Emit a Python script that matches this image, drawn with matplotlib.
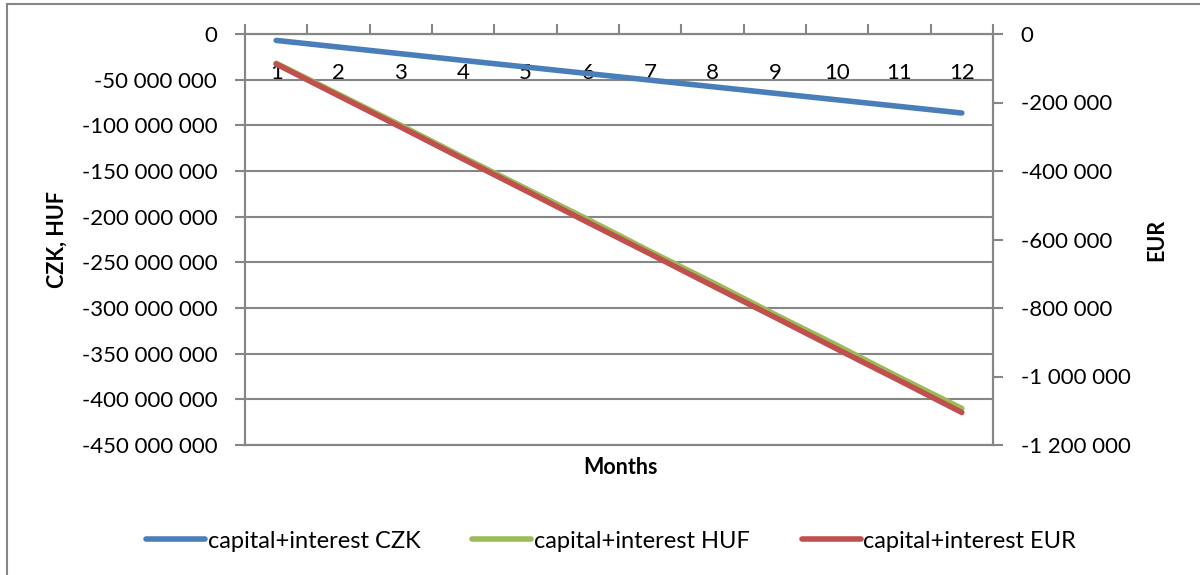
import matplotlib.pyplot as plt
from matplotlib.ticker import FuncFormatter, FixedLocator
from matplotlib.patches import Rectangle
import numpy as np

plt.rcParams['font.family'] = ['Lato', 'DejaVu Sans']

months = list(range(1, 13))
# CZK and HUF on the left axis, EUR on the right axis
czk = [-7.0e6, -14.3e6, -21.6e6, -28.9e6, -36.1e6, -43.3e6,
       -50.5e6, -57.7e6, -64.9e6, -72.1e6, -79.3e6, -86.5e6]
huf = [-32e6, -66e6, -100e6, -135e6, -169e6, -203e6,
       -238e6, -272e6, -307e6, -341e6, -376e6, -410e6]
eur = [-87500, -180000, -272000, -365000, -457000, -550000,
       -642000, -735000, -827000, -920000, -1012000, -1105000]

left_ticks = np.arange(0, -450e6 - 1, -50e6)
right_ticks = np.arange(0, -1.2e6 - 1, -200e3)

grey = '#868686'
blue = '#4A7EBB'
green = '#9BBB59'
red = '#C0504D'


def spaced(v, pos=None):
    return f"{v:,.0f}".replace(",", " ")


fig = plt.figure(figsize=(12, 5.75), dpi=100)
ax = fig.add_axes([245 / 1200, 1 - 445 / 575, (993 - 245) / 1200, 411 / 575])
ax2 = ax.twinx()

l1, = ax.plot(months, czk, color=blue, lw=4, solid_capstyle='round', zorder=3)
l2, = ax.plot(months, huf, color=green, lw=4, solid_capstyle='round', zorder=3)
l3, = ax2.plot(months, eur, color=red, lw=4, solid_capstyle='round', zorder=3)

ax.set_xlim(0.5, 12.5)
ax.set_ylim(-450e6, 0)
ax2.set_ylim(-1.2e6, 0)

# left axis
ax.yaxis.set_major_locator(FixedLocator(left_ticks))
ax.yaxis.set_major_formatter(FuncFormatter(spaced))
ax.tick_params(axis='y', direction='out', length=7, width=1.5, color=grey,
               labelsize=16, pad=13)
ax.grid(axis='y', color=grey, lw=1.5)
ax.set_axisbelow(True)

# category axis sits on the zero line, labels just under it
ax.xaxis.set_ticks_position('top')
ax.set_xticks(months)
ax.set_xticklabels([str(m) for m in months])
ax.set_xticks(np.arange(0.5, 13, 1), minor=True)
ax.tick_params(axis='x', which='major', length=0, labelsize=16, pad=-35,
               labeltop=True, labelbottom=False)
ax.tick_params(axis='x', which='minor', direction='out', length=7, width=1.5,
               color=grey, top=True, bottom=False)

for s in ax.spines.values():
    s.set_color(grey)
    s.set_linewidth(1.5)
for s in ax2.spines.values():
    s.set_color(grey)
    s.set_linewidth(1.5)

# right axis
ax2.yaxis.set_major_locator(FixedLocator(right_ticks))
ax2.yaxis.set_major_formatter(FuncFormatter(spaced))
ax2.tick_params(axis='y', direction='out', length=7, width=1.5, color=grey,
                labelsize=16, pad=13)

fig.text(57 / 1200, 1 - 240 / 575, 'CZK, HUF', rotation=90, fontsize=15.5,
         fontweight='bold', ha='center', va='center')
fig.text(1157 / 1200, 1 - 240 / 575, 'EUR', rotation=90, fontsize=15.5,
         fontweight='bold', ha='center', va='center')
fig.text(620 / 1200, 1 - 467 / 575, 'Months', fontsize=15.5,
         fontweight='bold', ha='center', va='center')

fig.legend([l1, l2, l3],
           ['capital+interest CZK', 'capital+interest HUF', 'capital+interest EUR'],
           loc='center', bbox_to_anchor=(611 / 1200, 1 - 541 / 575), ncol=3,
           frameon=False, fontsize=17, handlelength=2.5, handletextpad=0.1,
           columnspacing=2.2)

# chart border
fig.patches.append(Rectangle((7 / 1200, -0.1), 1.2, 1 - 4 / 575 + 0.1,
                             transform=fig.transFigure, fill=False,
                             edgecolor=grey, lw=1.5))

fig.savefig('out.png', dpi=100)
